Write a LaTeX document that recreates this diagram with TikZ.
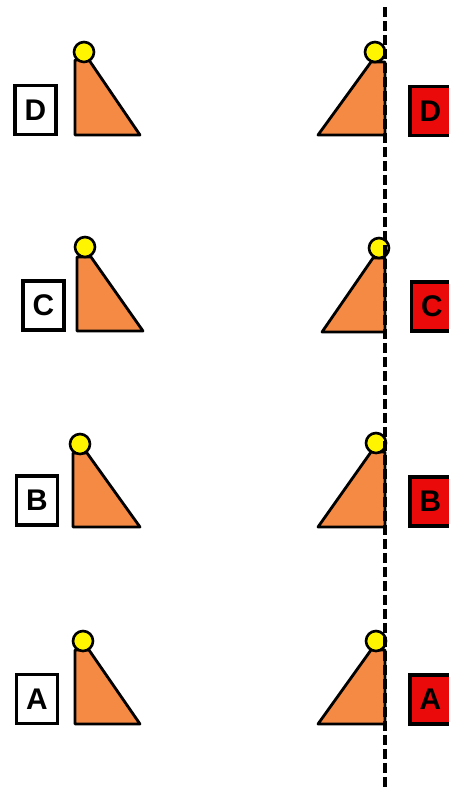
\documentclass[tikz,border=0pt]{standalone}
\usepackage{fontspec}
\setsansfont{Liberation Sans}
\usepackage{tikz}
\usetikzlibrary{positioning}

\definecolor{pendorange}{RGB}{245,138,68}
\definecolor{bobyellow}{RGB}{255,245,0}
\definecolor{boxred}{RGB}{235,10,10}

\begin{document}
\begin{tikzpicture}[x=0.02cm, y=-0.02cm,
    letterbox/.style={draw, line width=2.2pt, fill=white, minimum width=0.82cm, minimum height=0.98cm, inner sep=0pt, font=\fontsize{17}{17}\selectfont\sffamily\bfseries},
    redbox/.style={letterbox, fill=boxred},
    bob/.style={circle, draw, line width=1.5pt, fill=bobyellow, minimum size=0.4cm, inner sep=0pt},
    pend/.style={draw, line width=1.6pt, fill=pendorange, line join=round},
    mirror/.style={line width=1.8pt, dash pattern=on 0.2cm off 0.08cm}]
          \useasboundingbox (0,0) rectangle (449,789);

          % left column
          \node[letterbox] (boxD) at (35.5,110) {D};
          \draw[pend] (75,60) -- (89,60) -- (140,135) -- (75,135) -- cycle;
          \node[bob] (bobD) at (84,52) {};

          \node[letterbox] (boxC) at (43.5,305.5) {C};
          \draw[pend] (77,257) -- (91,257) -- (143,331) -- (77,331) -- cycle;
          \node[bob] (bobC) at (85,247) {};

          \node[letterbox] (boxB) at (37,500.5) {B};
          \draw[pend] (73,453) -- (87,453) -- (140,527) -- (73,527) -- cycle;
          \node[bob] (bobB) at (80,444) {};

          \node[letterbox] (boxA) at (37,699) {A};
          \draw[pend] (75,650) -- (89,650) -- (140,724) -- (75,724) -- cycle;
          \node[bob] (bobA) at (83,641) {};

          % right column
          \node[redbox] (imgD) at (430.5,111) {D};
          \draw[pend] (385,62) -- (371,62) -- (318,135) -- (385,135) -- cycle;
          \node[bob] (imgbobD) at (375,52) {};

          \node[redbox] (imgC) at (432,306.5) {C};
          \draw[pend] (385,258) -- (373,258) -- (322,332) -- (385,332) -- cycle;
          \node[bob] (imgbobC) at (379,248) {};

          \node[redbox] (imgB) at (430.5,501.5) {B};
          \draw[pend] (385,452) -- (371,452) -- (318,527) -- (385,527) -- cycle;
          \node[bob] (imgbobB) at (376,443) {};

          \node[redbox] (imgA) at (430.5,699.5) {A};
          \draw[pend] (385,650) -- (371,650) -- (318,724) -- (385,724) -- cycle;
          \node[bob] (imgbobA) at (376,641) {};

          % mirror line
          \coordinate (mtop) at (385,7);
          \coordinate (mbot) at (385,789);
          \draw[mirror] (mtop) -- (mbot);
        \end{tikzpicture}
\end{document}
